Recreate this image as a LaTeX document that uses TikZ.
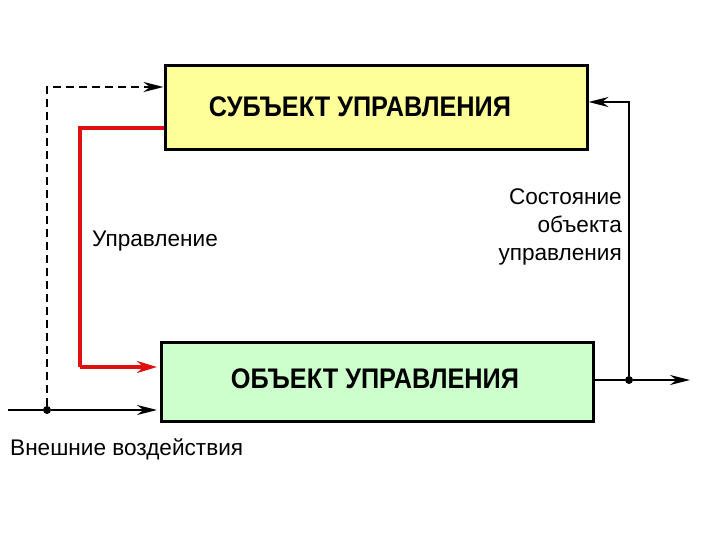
\documentclass[tikz,border=0pt]{standalone}
\usepackage{fontspec}
\usepackage{graphicx}
\setmainfont{Liberation Sans}
\usetikzlibrary{arrows.meta}
\definecolor{subjyellow}{HTML}{FFFF99}
\definecolor{objgreen}{HTML}{CCFFCC}
\definecolor{ctrlred}{HTML}{E01010}
\newcommand\tallcaps[1]{\scalebox{1}[1.12]{#1}}
\tikzset{
  blockbox/.style={draw=black,line width=3pt,minimum width=#1,inner sep=0pt},
  boxlabel/.style={font=\bfseries\fontsize{25.3}{28}\selectfont,inner sep=0pt},
  plainlabel/.style={font=\fontsize{22.6}{28}\selectfont,inner sep=0pt},
  sig/.style={line width=1.8pt,-{Stealth[length=20pt,width=10pt]}},
  ctrl/.style={ctrlred,line width=3.2pt,-{Stealth[length=20pt,width=12pt]}},
  dot/.style={circle,fill=black,minimum size=8pt,inner sep=0pt}
}
\begin{document}
\begin{tikzpicture}[x=1pt,y=-1pt]
  \useasboundingbox (0,0) rectangle (720,540);
  % blocks
  \node[blockbox=422pt,minimum height=84pt,fill=subjyellow] (subj) at (376,108) {};
  \node[boxlabel] (subjtext) at (360,107) {\tallcaps{СУБЪЕКТ УПРАВЛЕНИЯ}};
  \node[blockbox=432pt,minimum height=79pt,fill=objgreen] (obj) at (377,381.5) {};
  \node[boxlabel] (objtext) at (375,379) {\tallcaps{ОБЪЕКТ УПРАВЛЕНИЯ}};
  % junction points
  \coordinate (inL) at (8,410);
  \node[dot] (inDot) at (47,410) {};
  \node[dot] (outDot) at (629,380) {};
  \coordinate (outR) at (690,380);
  \coordinate (ctrlTop) at (80,128);
  \coordinate (ctrlBot) at (80,367);
  % external influences
  \draw[line width=1.8pt] (inL) -- (inDot);
  \draw[sig] (inDot) -- (157,410);
  \draw[line width=2.2pt,dash pattern=on 8pt off 5pt,-{Stealth[length=20pt,width=10pt]}]
    (inDot) |- (subj.west |- 0,87);
  % control
  \draw[ctrlred,line width=3.2pt] (subj.west |- ctrlTop) -- (ctrlTop) -- (ctrlBot);
  \draw[ctrl] (ctrlBot) -- (157,367);
  % feedback
  \draw[line width=1.8pt] (obj.east |- outDot) -- (outDot);
  \draw[sig] (outDot) -- (outR);
  \draw[sig] (outDot) |- (subj.east |- 0,102);
  % labels
  \node[plainlabel,anchor=base west] (ctrlText) at (92,246) {Управление};
  \node[plainlabel,anchor=base east,align=right] (stateText) at (622,260)
    {Состояние\\объекта\\управления};
  \node[plainlabel,anchor=base west] (extText) at (10,455) {Внешние воздействия};
\end{tikzpicture}
\end{document}
